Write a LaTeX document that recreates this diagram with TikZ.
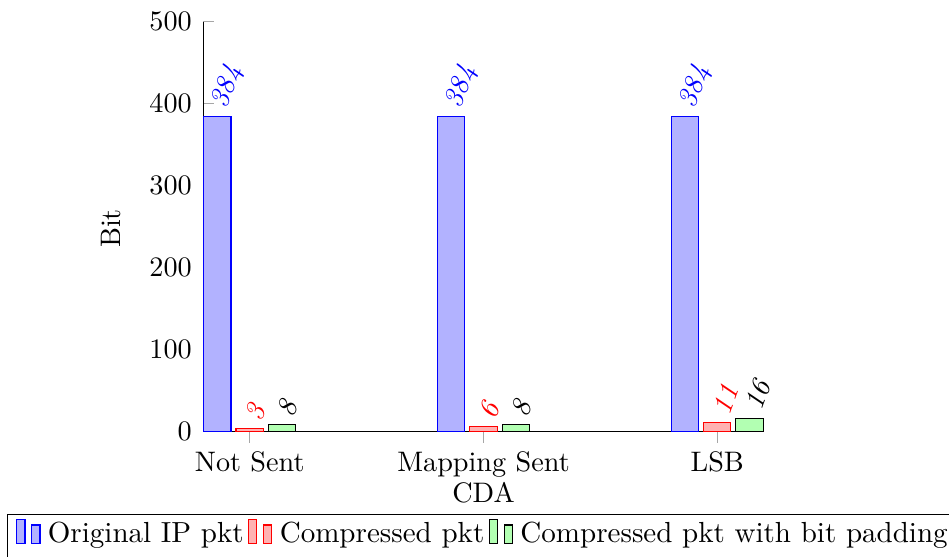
\documentclass[tikz,border=0pt]{standalone}
\usepackage{fontspec}
\usetikzlibrary{calc}
\begin{document}
\begin{tikzpicture}[x=0.3546pt, y=-0.3546pt,
  axisline/.style={black, line width=0.4pt},
  tickmark/.style={black!35, line width=0.4pt},
  ticklabel/.style={inner sep=0pt},
  barblue/.style={draw=blue, fill=blue!30, line width=0.4pt},
  barred/.style={draw=red, fill=red!30, line width=0.4pt},
  bargreen/.style={draw=black, fill=green!30, line width=0.4pt},
  barlabel/.style={rotate=70, anchor=west, font=\itshape},
  legtext/.style={inner sep=0pt, anchor=base west, font=\fontsize{10.3}{12}\selectfont}]
\useasboundingbox (0,0) rectangle (949,557);
\clip (0,0) rectangle (949,557);

% y ticks and labels (0 at y=431.3, 0.819 px per bit)
\foreach \v in {0,100,200,300,400,500}{
  \draw[tickmark] (203.3,{431.3-0.819*\v}) -- (214,{431.3-0.819*\v});
  \node[ticklabel, anchor=east] (ytick\v) at (192.3,{431.3-0.819*\v}) {\v};
}
% x ticks and category labels
\foreach \x/\n/\t in {249.7/a/Not Sent, 483.5/b/Mapping Sent, 717.3/c/LSB}{
  \draw[tickmark] (\x,431.3) -- (\x,442.7);
  \node[ticklabel, anchor=base] (xtick\n) at (\x,472) {\t};
}
\node[ticklabel, anchor=base] (xlabel) at (483.5,502.3) {CDA};
\node[ticklabel, rotate=90] (ylabel) at (111,228.5) {Bit};

% axes
\coordinate (O) at (203.3,431.3);
\coordinate (ytop) at (203.3,21.8);
\coordinate (xend) at (762.7,431.3);
\draw[axisline] (ytop) -- (O) -- (xend);

% bars: original / compressed / compressed with padding
\foreach \g/\n/\r/\p in {249.7/a/3/8, 483.5/b/6/8, 717.3/c/11/16}{
  \draw[barblue]  ({\g-46.0},431.3) rectangle ({\g-18.7},{431.3-0.819*384});
  \draw[barred]   ({\g-13.7},431.3) rectangle ({\g+13.6},{431.3-0.819*\r});
  \draw[bargreen] ({\g+18.6},431.3) rectangle ({\g+45.9},{431.3-0.819*\p});
  \node[barlabel, text=blue]  (o\n) at ({\g-32.4},{431.3-0.819*384}) {384};
  \node[barlabel, text=red]   (c\n) at (\g,{431.3-0.819*\r}) {\r};
  \node[barlabel, text=black] (p\n) at ({\g+32.2},{431.3-0.819*\p}) {\p};
}

% legend
\draw[line width=0.4pt] (7.3,600) |- (1000,514.7);
\node[legtext] (t1) at (47.3,542.5) {Original IP pkt};
\node[legtext] (t2) at ($(t1.base east)+(35,0)$) {Compressed pkt};
\node[legtext] (t3) at ($(t2.base east)+(35,0)$) {Compressed pkt with bit padding};
\foreach \t/\s in {t1/barblue, t2/barred, t3/bargreen}{
  \begin{scope}[shift={(\t.base west)}]
    \draw[\s] (-30.6,0.8) rectangle (-22.3,-23.2);
    \draw[\s] (-15.6,0.8) rectangle (-7.3,-17.5);
  \end{scope}
}
\end{tikzpicture}
\end{document}
